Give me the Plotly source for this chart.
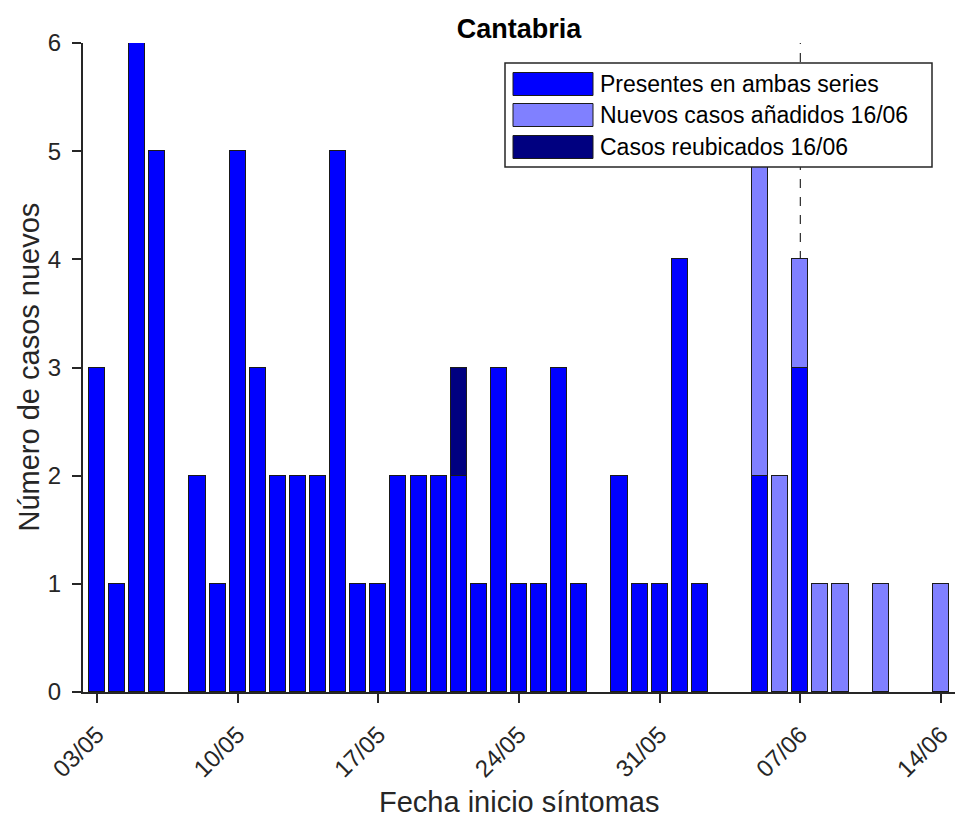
import plotly.graph_objects as go
import pandas as pd

# Daily new cases by symptom-onset date (Cantabria); None = no bar that day
fechas = pd.date_range("2020-05-03", "2020-06-14", freq="D")

presentes = [3, 1, 6, 5, None, 2, 1, 5, 3, 2, 2, 2, 5, 1, 1, 2, 2, 2, 2, 1, 3,
             1, 1, 3, 1, None, 2, 1, 1, 4, 1, None, None, 2, None, 3, None,
             None, None, None, None, None, None]
nuevos = [None] * 33 + [3, 2, 1, 1, 1, None, 1, None, None, 1]
reubicados = [None] * 18 + [1] + [None] * 24

series_names = ["Presentes en ambas series", "Nuevos casos añadidos 16/06",
                "Casos reubicados 16/06"]
series_colors = ["#0000FF", "#8080FF", "#000080"]
series_values = [presentes, nuevos, reubicados]

fecha_corte = "2020-06-07"
y_ticks = [0, 1, 2, 3, 4, 5, 6]

FONT = "Liberation Sans, Arial, sans-serif"
AXC = "#262626"
DAY_MS = 86400000

fig = go.Figure()
for name, color, vals in zip(series_names, series_colors, series_values):
    fig.add_trace(go.Bar(
        x=fechas, y=vals, name=name, width=0.8 * DAY_MS,
        marker=dict(color=color, line=dict(color="#1a1a1a", width=1)),
        showlegend=False,
    ))

# Plot area in pixels (for placing the boxed legend and axis titles)
W, H = 962, 824
L, R, T, B = 83, 7, 43, 132
PW, PH = W - L - R, H - T - B


def px_x(px):
    return (px - L) / PW


def px_y(py):
    return (H - B - py) / PH


shapes = [
    dict(type="line", xref="x", yref="y", x0=fecha_corte, x1=fecha_corte,
         y0=0, y1=6, layer="below",
         line=dict(color="black", width=1, dash="dash")),
    # legend frame
    dict(type="rect", xref="paper", yref="paper",
         x0=px_x(505), x1=px_x(932), y0=px_y(167), y1=px_y(63),
         fillcolor="white", line=dict(color=AXC, width=1.5), layer="above"),
]
annotations = []
row_centers = [84, 115, 147]
for name, color, yc in zip(series_names, series_colors, row_centers):
    shapes.append(dict(type="rect", xref="paper", yref="paper",
                       x0=px_x(513), x1=px_x(593),
                       y0=px_y(yc + 11.5), y1=px_y(yc - 11.5),
                       fillcolor=color, line=dict(color="#1a1a1a", width=1),
                       layer="above"))
    annotations.append(dict(xref="paper", yref="paper", x=px_x(598), y=px_y(yc),
                            text=name, showarrow=False, xanchor="left",
                            yanchor="middle",
                            font=dict(family=FONT, size=23, color="black")))

annotations.append(dict(xref="paper", yref="paper", x=0.5, y=px_y(802),
                        text="Fecha inicio síntomas", showarrow=False,
                        xanchor="center", yanchor="middle",
                        font=dict(family=FONT, size=29, color=AXC)))
annotations.append(dict(xref="paper", yref="paper", x=px_x(28), y=0.5,
                        text="Número de casos nuevos", showarrow=False,
                        textangle=-90, xanchor="center", yanchor="middle",
                        font=dict(family=FONT, size=29, color=AXC)))

x0 = pd.Timestamp("2020-05-03") - pd.Timedelta(hours=0.7 * 24)
x1 = pd.Timestamp("2020-06-14") + pd.Timedelta(hours=0.7 * 24)

fig.update_layout(
    width=W, height=H,
    margin=dict(l=L, r=R, t=T, b=B, autoexpand=False),
    plot_bgcolor="white", paper_bgcolor="white",
    barmode="stack", bargap=0,
    title=dict(text="<b>Cantabria</b>", x=0.5, xref="paper",
               y=(H - 29) / H, yref="container", yanchor="middle",
               xanchor="center",
               font=dict(family=FONT, size=27, color="black")),
    font=dict(family=FONT, color=AXC),
    xaxis=dict(type="date", range=[x0, x1], tick0="2020-05-03",
               dtick=7 * DAY_MS, tickformat="%d/%m", tickangle=-45,
               ticks="outside", ticklen=9, tickwidth=2, tickcolor=AXC,
               ticklabelstandoff=8,
               showline=True, linecolor=AXC, linewidth=2, showgrid=False,
               zeroline=False, tickfont=dict(family=FONT, size=24, color=AXC)),
    yaxis=dict(range=[0, 6], tickvals=y_ticks,
               ticks="outside", ticklen=9, tickwidth=2, tickcolor=AXC,
               ticklabelstandoff=6,
               showline=True, linecolor=AXC, linewidth=2, showgrid=False,
               zeroline=False, tickfont=dict(family=FONT, size=24, color=AXC)),
    shapes=shapes,
    annotations=annotations,
)

fig.write_html("out.html")
